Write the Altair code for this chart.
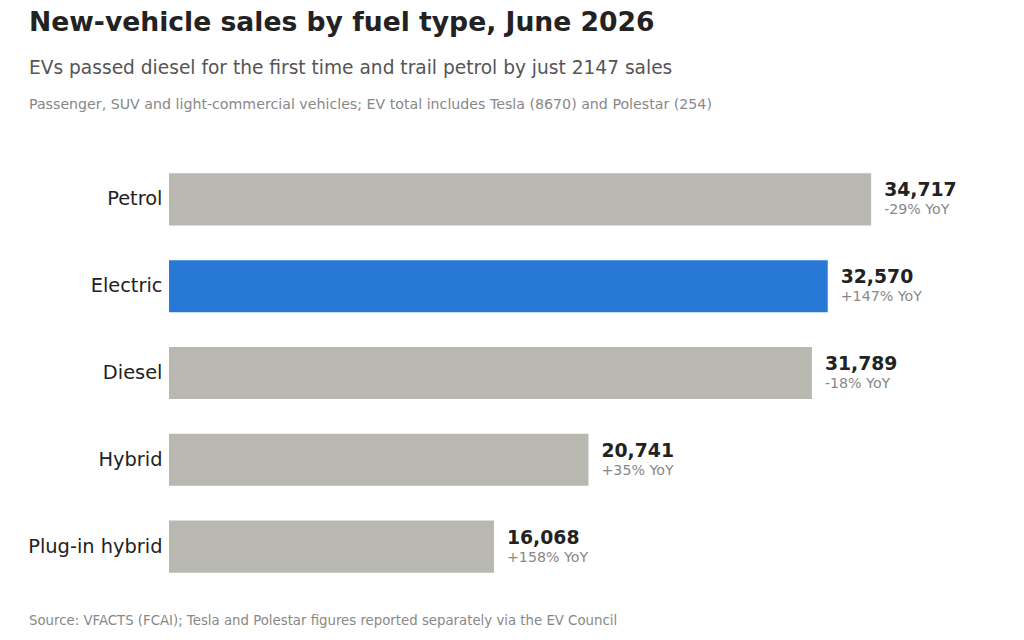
import altair as alt
import pandas as pd

# June 2026 new-vehicle sales by fuel type
fuel = ["Petrol", "Electric", "Diesel", "Hybrid", "Plug-in hybrid"]
sales = [34717, 32570, 31789, 20741, 16068]
yoy = ["-29% YoY", "+147% YoY", "-18% YoY", "+35% YoY", "+158% YoY"]
highlight = ["other", "ev", "other", "other", "other"]

df = pd.DataFrame({"fuel": fuel, "sales": sales, "yoy": yoy, "group": highlight})

FONT = "DejaVu Sans"
W, H = 809, 434
PAD_L, PAD_T = 169, 156

y_enc = alt.Y(
    "fuel:N",
    sort=fuel,
    scale=alt.Scale(paddingInner=0.4, paddingOuter=0.2),
    axis=alt.Axis(
        title=None, domain=False, ticks=False, labelFontSize=19.4,
        labelColor="#222222", labelPadding=7, labelFont=FONT,
    ),
)
x_enc = alt.X("sales:Q", scale=alt.Scale(domain=[0, 40000]), axis=None)

base = alt.Chart(df).encode(y=y_enc, x=x_enc)

bars = base.mark_bar().encode(
    color=alt.Color(
        "group:N",
        scale=alt.Scale(domain=["other", "ev"], range=["#b8b8b0", "#2878d6"]),
        legend=None,
    )
)

values = base.mark_text(
    align="left", baseline="middle", dx=13, dy=-9,
    fontSize=18.8, fontWeight="bold", font=FONT, color="#222222",
).encode(text=alt.Text("sales:Q", format=",d"))

changes = base.mark_text(
    align="left", baseline="middle", dx=13, dy=11,
    fontSize=14.2, font=FONT, color="#888888",
).encode(text="yoy:N")

def caption(text, y, size, color, weight="normal"):
    return alt.Chart(pd.DataFrame({"t": [text]})).mark_text(
        align="left", baseline="middle", fontSize=size, font=FONT,
        color=color, fontWeight=weight,
    ).encode(text="t:N", x=alt.value(29 - PAD_L), y=alt.value(y - PAD_T))

title = caption("New-vehicle sales by fuel type, June 2026", 23, 26.6, "#222222", "bold")
subtitle = caption("EVs passed diesel for the first time and trail petrol by just 2147 sales", 68, 18.6, "#555555")
note = caption("Passenger, SUV and light-commercial vehicles; EV total includes Tesla (8670) and Polestar (254)", 105, 14.2, "#888888")
source = caption("Source: VFACTS (FCAI); Tesla and Polestar figures reported separately via the EV Council", 621, 13.3, "#888888")

chart = alt.layer(bars, values, changes, title, subtitle, note, source).properties(
    width=W, height=H,
    autosize=alt.AutoSizeParams(type="none"),
    padding={"left": PAD_L, "top": PAD_T, "right": 1024 - PAD_L - W, "bottom": 640 - PAD_T - H},
    background="white",
).configure_view(stroke=None)

chart.save("out.html", embed_options={"renderer": "svg", "actions": False})
